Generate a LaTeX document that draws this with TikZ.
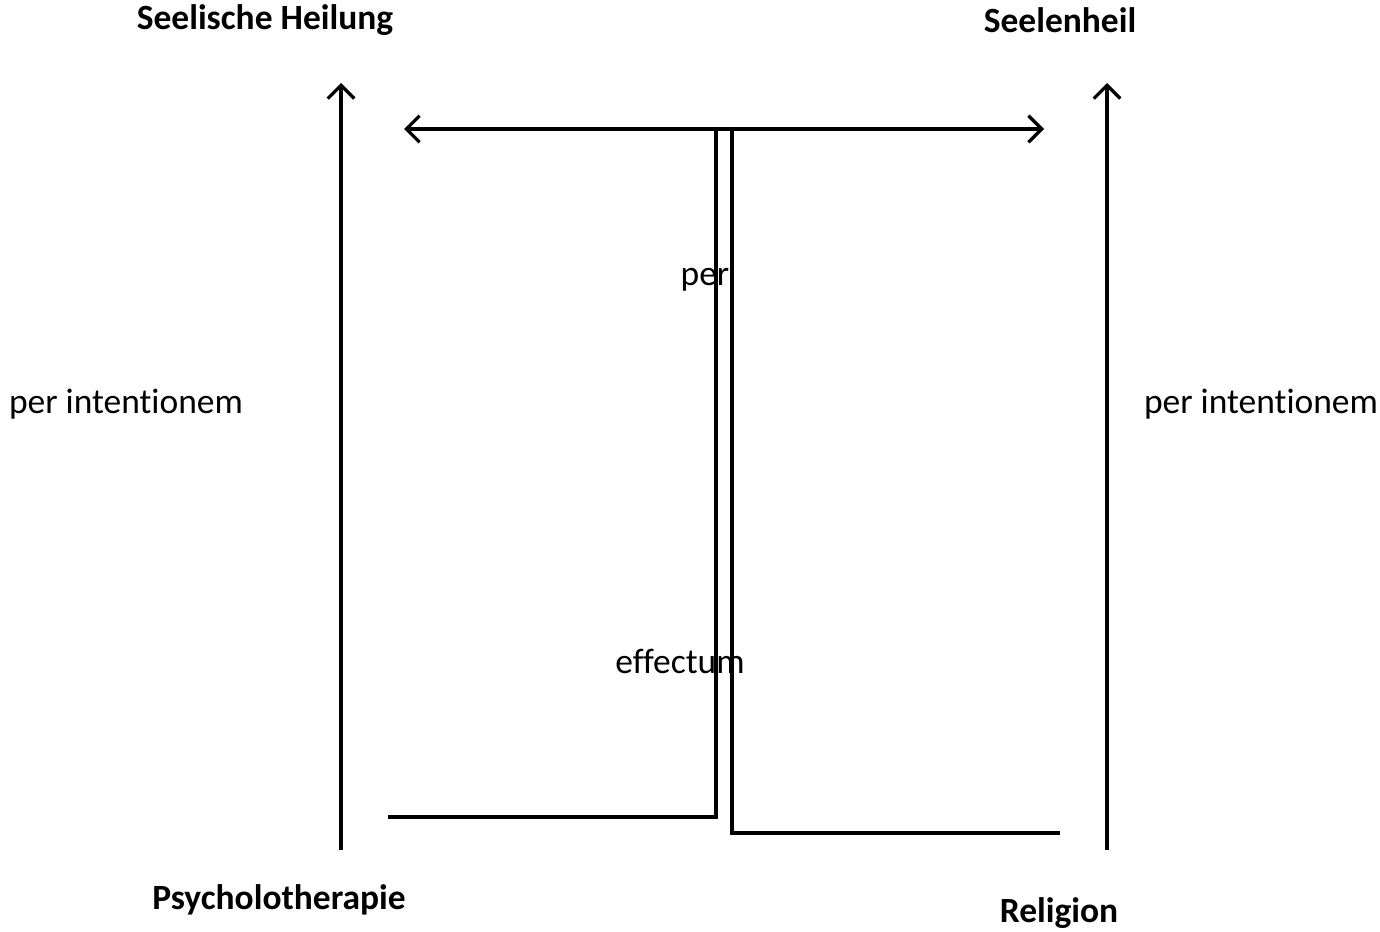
\documentclass[tikz,border=0pt]{standalone}
\usepackage{fontspec}
\setmainfont[Ligatures=NoCommon]{Carlito}
\usetikzlibrary{arrows.meta}
\begin{document}
\begin{tikzpicture}[x=0.75pt,y=-0.75pt,
  lbl/.style={inner sep=0pt,anchor=center,font=\fontsize{26.6}{32}\selectfont},
  bl/.style={lbl,font=\fontsize{26.6}{32}\selectfont\bfseries},
  ln/.style={line width=2.4pt,line join=miter},
  arr/.style={ln,-{Straight Barb[length=10pt,width=20pt,line width=2.4pt]}},
  darr/.style={ln,{Straight Barb[length=10pt,width=20pt,line width=2.4pt]}-{Straight Barb[length=10pt,width=20pt,line width=2.4pt]}}]
\useasboundingbox (0,0) rectangle (1380,931);
% labels
\node[bl] (sh) at (265,20) {Seelische Heilung};
\node[bl] (sl) at (1060,20) {Seelenheil};
\node[bl] (ps) at (279,900) {Psycholotherapie};
\node[bl] (re) at (1059,913) {Religion};
\node[lbl] (pil) at (126,404) {per intentionem};
\node[lbl] (pir) at (1261,404) {per intentionem};
\node[lbl] (per) at (705,280) {per};
\node[lbl] (eff) at (680,661) {effectum};
% coordinates
\coordinate (la) at (341,850);
\coordinate (lb) at (341,83);
\coordinate (ra) at (1107,850);
\coordinate (rb) at (1107,83);
\coordinate (ha) at (404,129);
\coordinate (hb) at (1044,129);
\coordinate (c1) at (388,817);
\coordinate (c2) at (716,817);
\coordinate (c3) at (716,129);
\coordinate (c4) at (732,129);
\coordinate (c5) at (732,833);
\coordinate (c6) at (1060,833);
% arrows
\draw[arr] (la) -- (lb);
\draw[arr] (ra) -- (rb);
\draw[darr] (ha) -- (hb);
\draw[ln] (c1) -- (c2) -- (c3) -- (c4) -- (c5) -- (c6);
\end{tikzpicture}
\end{document}
